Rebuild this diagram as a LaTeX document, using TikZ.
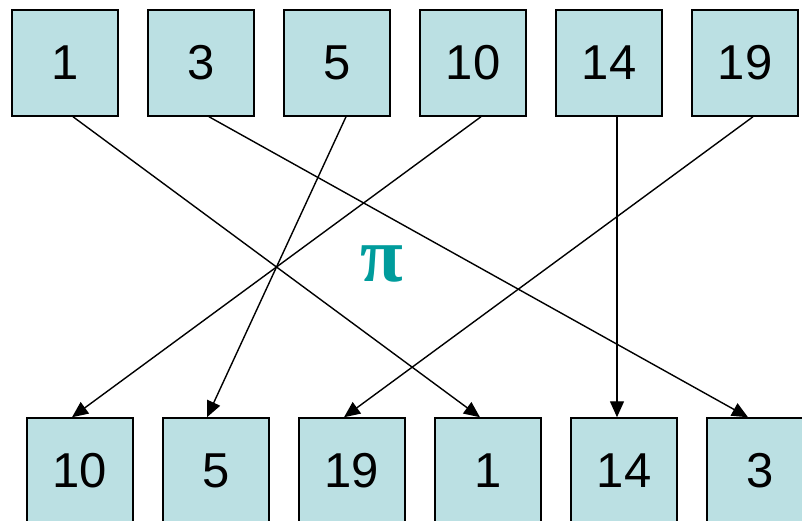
\documentclass[tikz,border=0pt]{standalone}
\usepackage{fontspec}
\setmainfont{Liberation Sans}
\newfontfamily\pifont{Liberation Serif}
\usetikzlibrary{arrows.meta}
\definecolor{boxfill}{HTML}{BBE0E3}
\definecolor{piteal}{HTML}{009C9C}
\begin{document}
\begin{tikzpicture}[x=1pt,y=-1pt,
  cell/.style={draw=black,line width=1.5pt,fill=boxfill,minimum width=106pt,minimum height=106pt,inner sep=0pt,font=\fontsize{49}{49}\selectfont},
  link/.style={line width=1.4pt,-{Triangle[length=16pt,width=14pt]}}]
\useasboundingbox (0,0) rectangle (802,521);
% top row
\node[cell] (t1)  at (65,63)  {1};
\node[cell] (t3)  at (201,63) {3};
\node[cell] (t5)  at (337,63) {5};
\node[cell] (t10) at (473,63) {10};
\node[cell] (t14) at (609,63) {14};
\node[cell] (t19) at (745,63) {19};
% bottom row
\node[cell] (b10) at (80,471)  {10};
\node[cell] (b5)  at (216,471) {5};
\node[cell] (b19) at (352,471) {19};
\node[cell] (b1)  at (488,471) {1};
\node[cell] (b14) at (624,471) {14};
\node[cell] (b3)  at (760,471) {3};
% pi label
\node[text=piteal,font=\pifont\bfseries\fontsize{78}{78}\selectfont] (pi) at (382,264) {π};
% connectors
\draw[link] ([xshift=8pt]t1.south)  -- ([xshift=-8pt]b1.north);
\draw[link] ([xshift=8pt]t3.south)  -- ([xshift=-12pt]b3.north);
\draw[link] ([xshift=9pt]t5.south)  -- ([xshift=-9pt]b5.north);
\draw[link] ([xshift=8pt]t10.south) -- ([xshift=-8pt]b10.north);
\draw[link] ([xshift=8pt]t14.south) -- ([xshift=-7pt]b14.north);
\draw[link] ([xshift=8pt]t19.south) -- ([xshift=-8pt]b19.north);
\end{tikzpicture}
\end{document}
